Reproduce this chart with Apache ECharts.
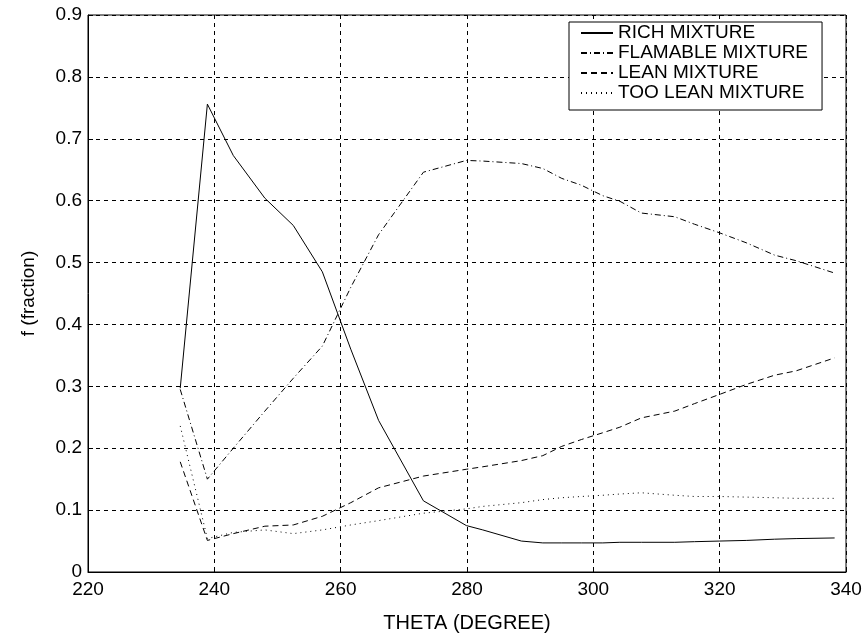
<!DOCTYPE html>
<html>
<head>
<meta charset="utf-8">
<script src="https://cdn.jsdelivr.net/npm/echarts@6/dist/echarts.min.js"></script>
<style>html,body{margin:0;padding:0;background:#fff}#chart{width:867px;height:638px}</style>
</head>
<body>
<div id="chart"></div>
<script>
var theta = [234.6, 238.9, 243, 248, 252.5, 257.1, 261.6, 266, 273.1, 279.9, 282.5, 288.6, 292, 295, 298.1, 301.5, 304.2, 307.6, 312.9, 316, 320, 324.2, 328.7, 332.1, 338.2];
var rich = [0.297, 0.756, 0.673, 0.604, 0.560, 0.485, 0.36, 0.245, 0.115, 0.075, 0.068, 0.050, 0.047, 0.047, 0.047, 0.047, 0.048, 0.048, 0.048, 0.049, 0.050, 0.051, 0.053, 0.054, 0.055];
var flamable = [0.295, 0.150, 0.200, 0.260, 0.313, 0.365, 0.46, 0.545, 0.646, 0.665, 0.664, 0.660, 0.652, 0.636, 0.625, 0.608, 0.599, 0.580, 0.574, 0.562, 0.548, 0.532, 0.512, 0.503, 0.483];
var lean = [0.178, 0.051, 0.062, 0.074, 0.076, 0.090, 0.112, 0.136, 0.155, 0.166, 0.170, 0.180, 0.188, 0.203, 0.214, 0.225, 0.234, 0.249, 0.260, 0.272, 0.287, 0.303, 0.318, 0.325, 0.346];
var tooLean = [0.236, 0.054, 0.064, 0.068, 0.062, 0.068, 0.076, 0.083, 0.095, 0.102, 0.106, 0.112, 0.117, 0.120, 0.122, 0.124, 0.126, 0.128, 0.124, 0.122, 0.122, 0.121, 0.120, 0.119, 0.119];
var names = ['RICH MIXTURE', 'FLAMABLE MIXTURE', 'LEAN MIXTURE', 'TOO LEAN MIXTURE'];

function pairs(ys) {
    return theta.map(function (x, i) { return [x, ys[i]]; });
}

var font = 'Liberation Sans, Arial, sans-serif';

function line(name, ys, dash) {
    return {
        name: name,
        type: 'line',
        data: pairs(ys),
        symbol: 'none',
        animation: false,
        lineStyle: { color: '#000', width: 1, type: dash },
        itemStyle: { color: '#000' }
    };
}

var option = {
    backgroundColor: '#fff',
    animation: false,
    grid: {
        left: 88, top: 15, right: 21, bottom: 63,
        show: true, borderColor: '#000', borderWidth: 1
    },
    legend: {
        orient: 'vertical',
        left: 569, top: 22,
        padding: [1, 14, 7, 11],
        itemGap: 0,
        itemWidth: 32,
        itemHeight: 14,
        itemTextGap: 24,
        backgroundColor: '#fff',
        borderColor: '#000',
        borderWidth: 1,
        borderRadius: 0,
        itemStyle: { opacity: 0 },
        textStyle: { fontFamily: font, fontSize: 19, lineHeight: 20, color: '#000' },
        data: names
    },
    xAxis: {
        type: 'value',
        min: 220, max: 340, interval: 20,
        name: 'THETA (DEGREE)',
        nameLocation: 'middle',
        nameGap: 41,
        nameTextStyle: { fontFamily: font, fontSize: 20, color: '#000' },
        axisLine: { lineStyle: { color: '#000', width: 1 } },
        axisTick: { inside: true, length: 5, lineStyle: { color: '#000' } },
        axisLabel: { fontFamily: font, fontSize: 19, color: '#000', margin: 8 },
        splitLine: { show: true, lineStyle: { color: '#000', type: [4, 4], width: 1 } }
    },
    yAxis: {
        type: 'value',
        min: 0, max: 0.9, interval: 0.1,
        name: 'f (fraction)',
        nameLocation: 'middle',
        nameGap: 50,
        nameTextStyle: { fontFamily: font, fontSize: 19, color: '#000' },
        axisLine: { lineStyle: { color: '#000', width: 1 } },
        axisTick: { inside: true, length: 5, lineStyle: { color: '#000' } },
        axisLabel: { fontFamily: font, fontSize: 19, color: '#000', margin: 6 },
        splitLine: { show: true, lineStyle: { color: '#000', type: [4, 4], width: 1 } }
    },
    series: [
        line(names[0], rich, 'solid'),
        line(names[1], flamable, [6, 3, 1, 3]),
        line(names[2], lean, [6, 4]),
        line(names[3], tooLean, [1, 4])
    ]
};

var chart = echarts.init(document.getElementById('chart'));
chart.setOption(option);
</script>
</body>
</html>
